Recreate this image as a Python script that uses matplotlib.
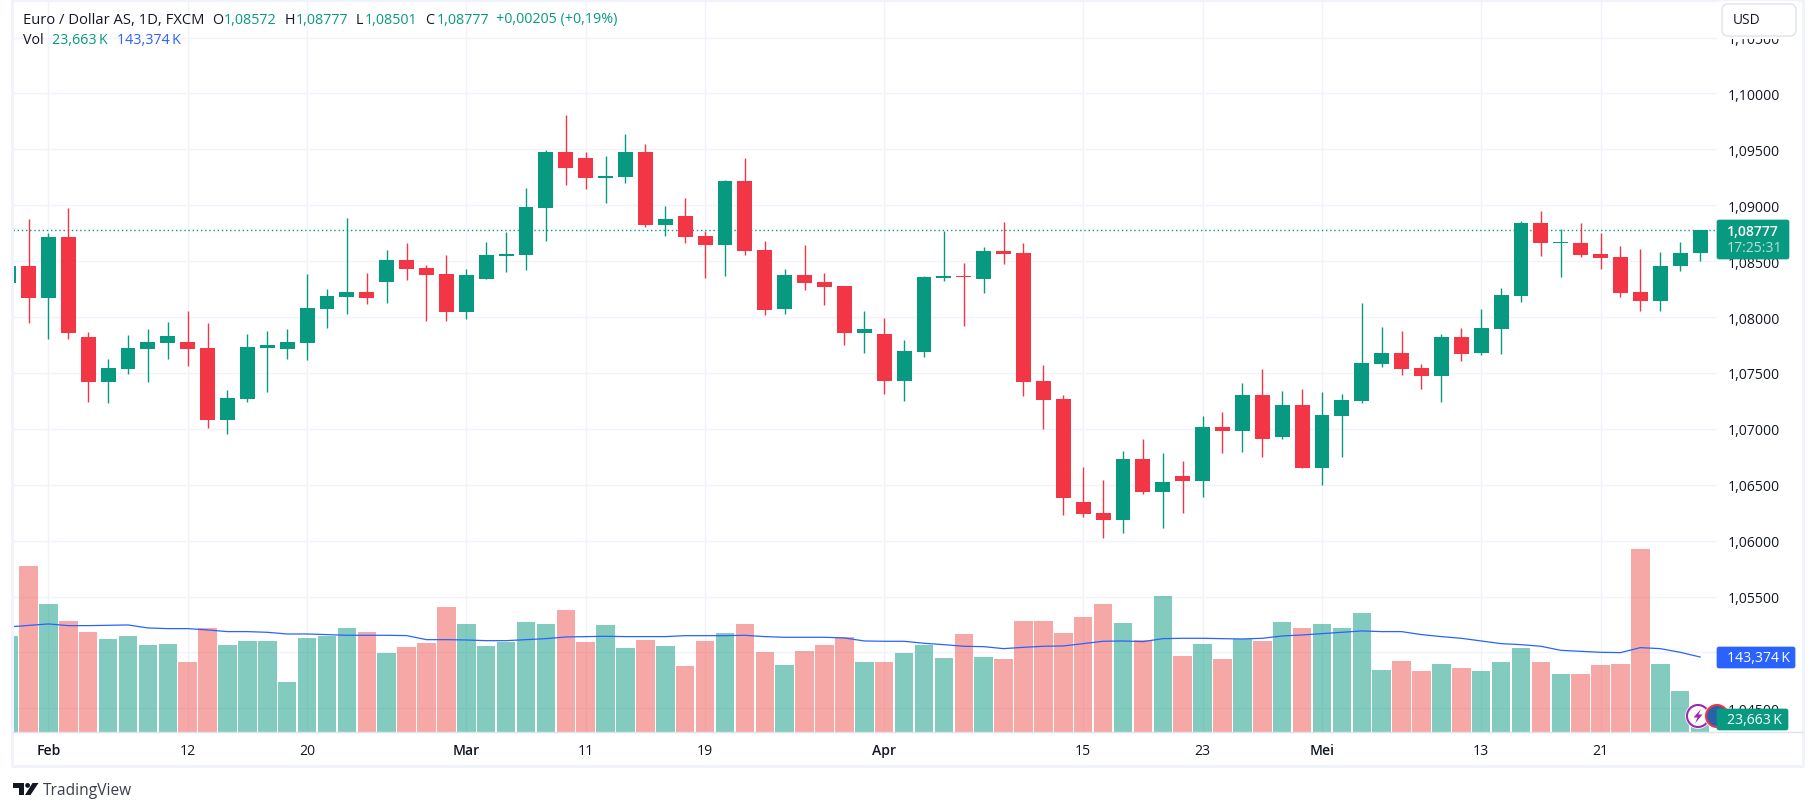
import matplotlib
matplotlib.use("Agg")
import matplotlib.pyplot as plt
from matplotlib.patches import Rectangle, FancyBboxPatch, Circle, Polygon

opens = [1.08305,1.08457,1.08174,1.08717,1.07822,1.07423,1.07539,1.07718,1.07772,1.07778,1.07724,1.07083,1.07271,1.07727,1.07718,1.07772,1.08076,1.08183,1.08225,1.08317,1.08511,1.08439,1.08386,1.08049,1.08344,1.08547,1.08559,1.08979,1.09477,1.09423,
         1.09244,1.09253,1.09477,1.08824,1.08905,1.08726,1.08645,1.09218,1.08600,1.08073,1.08377,1.08314,1.08278,1.07858,1.07849,1.07429,1.07688,1.08350,1.08368,1.08341,1.08592,1.08574,1.07429,1.07268,1.06346,1.06248,1.06185,1.06731,1.06436,1.06579,
         1.06534,1.07017,1.06982,1.07304,1.06928,1.07214,1.06651,1.07116,1.07250,1.07581,1.07679,1.07545,1.07473,1.07822,1.07679,1.07894,1.08189,1.08842,1.08663,1.08663,1.08565,1.08538,1.08225,1.08144,1.08457,1.08572]
closes = [1.08457,1.08174,1.08717,1.07861,1.07423,1.07545,1.07724,1.07778,1.07831,1.07718,1.07083,1.07277,1.07733,1.07751,1.07778,1.08082,1.08189,1.08225,1.08174,1.08511,1.08434,1.08380,1.08049,1.08377,1.08556,1.08565,1.08985,1.09477,1.09337,1.09247,
          1.09262,1.09477,1.08824,1.08878,1.08717,1.08645,1.09218,1.08592,1.08064,1.08377,1.08305,1.08270,1.07858,1.07894,1.07429,1.07697,1.08359,1.08368,1.08359,1.08592,1.08565,1.07420,1.07259,1.06382,1.06239,1.06185,1.06731,1.06436,1.06525,1.06534,
          1.07017,1.06982,1.07304,1.06910,1.07214,1.06651,1.07125,1.07259,1.07590,1.07679,1.07536,1.07473,1.07822,1.07670,1.07903,1.08198,1.08842,1.08663,1.08672,1.08556,1.08529,1.08216,1.08144,1.08457,1.08574,1.08777]
highs = [1.08457,1.08878,1.08753,1.08976,1.07867,1.07626,1.07840,1.07894,1.07956,1.08055,1.07948,1.07348,1.07849,1.07876,1.07894,1.08386,1.08252,1.08887,1.08395,1.08600,1.08663,1.08466,1.08556,1.08431,1.08672,1.08761,1.09155,1.09495,1.09808,1.09477,
         1.09441,1.09638,1.09549,1.08994,1.09066,1.08770,1.09227,1.09423,1.08681,1.08431,1.08645,1.08395,1.08278,1.08055,1.07992,1.07795,1.08368,1.08770,1.08484,1.08627,1.08851,1.08663,1.07572,1.07304,1.06660,1.06543,1.06803,1.06910,1.06785,1.06713,
         1.07116,1.07151,1.07411,1.07536,1.07339,1.07357,1.07330,1.07312,1.08126,1.07912,1.07876,1.07581,1.07849,1.07903,1.08073,1.08261,1.08860,1.08949,1.08788,1.08842,1.08753,1.08636,1.08609,1.08583,1.08672,1.08777]
lows = [1.08305,1.07951,1.07807,1.07807,1.07244,1.07235,1.07494,1.07423,1.07629,1.07566,1.07011,1.06958,1.07244,1.07333,1.07629,1.07620,1.07906,1.08031,1.08120,1.08129,1.08335,1.07968,1.07968,1.07986,1.08344,1.08407,1.08425,1.08684,1.09185,1.09149,
        1.09024,1.09200,1.08806,1.08726,1.08663,1.08350,1.08368,1.08556,1.08019,1.08028,1.08243,1.08109,1.07751,1.07679,1.07312,1.07250,1.07643,1.08323,1.07921,1.08216,1.08475,1.07295,1.07000,1.06230,1.06212,1.06024,1.06069,1.06418,1.06114,1.06248,
        1.06391,1.06785,1.06794,1.06749,1.06910,1.06651,1.06499,1.06749,1.07232,1.07554,1.07482,1.07357,1.07241,1.07608,1.07661,1.07670,1.08135,1.08547,1.08359,1.08538,1.08431,1.08180,1.08055,1.08055,1.08413,1.08501]
volumes = [183.4,316.7,244.4,212.0,191.0,177.7,183.4,166.3,168.2,133.9,198.7,166.3,173.9,174.0,95.8,179.6,183.4,198.7,191.0,151.0,162.5,170.1,238.6,206.3,164.4,172.0,210.1,206.3,232.9,172.0,
           204.4,160.6,175.8,164.4,126.3,173.9,189.1,206.3,153.0,128.2,154.9,166.3,181.5,133.9,133.9,151.0,166.3,141.5,187.2,143.4,139.6,212.0,212.0,189.1,219.6,244.4,208.2,175.8,259.6,145.3,
           168.2,139.6,177.7,173.9,210.1,198.7,206.3,198.7,227.2,118.7,135.8,116.8,130.1,122.5,116.8,133.9,160.6,133.9,111.1,111.1,128.2,130.1,349.1,130.1,78.7,23.663]
vol_ma = [200.6,203.5,206.3,203.1,203.1,203.7,204.4,198.7,197.4,197.4,194.9,191.7,191.7,190.4,187.2,187.2,186.0,184.7,184.7,184.7,184.1,176.4,176.4,175.8,174.5,174.5,176.4,178.3,181.5,182.2,
          182.8,182.2,182.2,182.2,184.0,184.0,184.0,184.7,182.2,180.9,180.9,180.9,179.6,173.9,173.3,173.3,169.5,166.9,163.8,163.1,159.3,161.8,163.8,164.4,168.8,173.3,173.9,172.6,178.3,179.0,
          179.0,178.3,177.7,179.0,183.4,185.3,187.9,190.4,193.0,191.7,191.7,186.0,182.2,179.0,173.9,168.8,166.9,163.8,156.1,154.2,152.3,151.7,161.2,159.3,152.3,143.374]
price_ticks = [1.045,1.05,1.055,1.06,1.065,1.07,1.075,1.08,1.085,1.09,1.095,1.10,1.105]
price_labels = ["1,04500","1,05000","1,05500","1,06000","1,06500","1,07000","1,07500","1,08000","1,08500","1,09000","1,09500","1,10000","1,10500"]
time_idx = [2,9,15,23,29,35,44,54,60,66,74,80]
time_labels = ["Feb","12","20","Mar","11","19","Apr","15","23","Mei","13","21"]
month_labels = {"Feb","Mar","Apr","Mei"}

GREEN, RED, BLUE = "#089981", "#F23645", "#2962FF"
INK, GRID, FRAME = "#131722", "#F0F3FA", "#E0E3EB"
FONT = "Open Sans"
W, H = 1815, 812
plt.rcParams["font.family"] = [FONT, "DejaVu Sans"]

fig = plt.figure(figsize=(W / 100, H / 100), dpi=100, facecolor="white")
L, R, T, B = 13, 1717, 0, 733.3
rect = [L / W, 1 - B / H, (R - L) / W, (B - T) / H]
ax = fig.add_axes(rect, zorder=1)
ax.set_xlim(0.221, 85.85)
ax.set_ylim(1.04286, 1.10845)
for s in ax.spines.values():
    s.set_visible(False)
ax.set_yticks(price_ticks, price_labels)
ax.yaxis.tick_right()
ax.tick_params(axis="y", length=0, pad=8, labelsize=10.1, labelcolor=INK)
ax.set_xticks(time_idx, time_labels)
ax.tick_params(axis="x", length=0, pad=8, labelsize=10.1, labelcolor=INK)
for lab in ax.get_xticklabels():
    if lab.get_text() in month_labels:
        lab.set_fontweight("semibold")
ax.grid(True, color=GRID, lw=1.0)
ax.set_axisbelow(True)

xs = list(range(len(opens)))
cols = [GREEN if c >= o else RED for o, c in zip(opens, closes)]
ax.vlines(xs, lows, highs, colors=cols, lw=1.0, zorder=3)
ax.bar(xs, [max(abs(c - o), 0.00004) for o, c in zip(opens, closes)],
       bottom=[min(o, c) for o, c in zip(opens, closes)], width=0.75, color=cols, zorder=4)
ax.axhline(closes[-1], color=GREEN, lw=1.0, ls=(0, (1, 2)), zorder=2)

vax = fig.add_axes(rect, zorder=2, sharex=ax)
vax.patch.set_visible(False)
vax.set_ylim(0, 1396.2)
vax.axis("off")
vol_cols = ["#089981" if c == GREEN else "#EF5350" for c in cols]
vax.bar(xs, volumes, width=0.93, color=vol_cols, alpha=0.5, lw=0)
vax.plot(xs, vol_ma, color=BLUE, lw=0.9)

# overlay in pixel coordinates for the chrome of the screenshot
ov = fig.add_axes([0, 0, 1, 1], zorder=5)
ov.set_xlim(0, W)
ov.set_ylim(H, 0)
ov.axis("off")
ov.patch.set_visible(False)

# frame
ov.add_patch(Rectangle((12.5, 1), 1790.5, 766, fill=False, ec=GRID, lw=2.2))
ov.plot([13, 1802], [733.3, 733.3], color=FRAME, lw=1.0)

# legend
def seg(x, y, s, color=INK, size=10.3):
    ov.text(x, y, s, color=color, fontsize=size, ha="left", va="center")

seg(23, 20, "Euro / Dollar AS, 1D, FXCM", size=10.6)
seg(212.5, 20, "O")
seg(224, 20, "1,08572", GREEN)
seg(284.5, 20, "H")
seg(296, 20, "1,08777", GREEN)
seg(356, 20, "L")
seg(365, 20, "1,08501", GREEN)
seg(425.5, 20, "C")
seg(437, 20, "1,08777", GREEN)
seg(496, 20, "+0,00205 (+0,19%)", GREEN)
seg(23, 41, "Vol")
seg(52.5, 41, "23,663\u2009K", GREEN)
seg(117.5, 41, "143,374\u2009K", BLUE)

# currency button, with the white it leaves around itself on the price scale
ov.add_patch(Rectangle((1719, 2), 80, 38, fc="white", ec="none", zorder=5))
ov.add_patch(FancyBboxPatch((1725, 8), 68, 26, boxstyle="round,pad=3,rounding_size=6",
                            fc="white", ec=FRAME, lw=1.0, zorder=6))
ov.text(1733, 20.5, "USD", color=INK, fontsize=9.9, va="center", zorder=7)

# event badges
ov.add_patch(Circle((1698, 717), 12.8, fc="white", ec="none", zorder=6))
ov.add_patch(Circle((1698, 717), 11, fc="white", ec="#9C27B0", lw=1.5, zorder=6))
ov.add_patch(Polygon([(1701, 710), (1693.5, 718.5), (1697.5, 718.5), (1695, 724.5), (1702.5, 715.5), (1698.5, 715.5)],
                     fc="#9C27B0", ec="none", zorder=7))
ov.add_patch(Circle((1717, 717), 12.8, fc="white", ec="none", zorder=7))
ov.add_patch(Circle((1717, 717), 11, fc="#2962A8", ec=RED, lw=1.5, zorder=7))

# value labels on the scale
def tag(x0, x1, y0, y1, color):
    ov.add_patch(FancyBboxPatch((x0, y0), x1 - x0 - 2, y1 - y0, boxstyle="round,pad=0,rounding_size=2",
                                fc=color, ec=color, lw=0.5, zorder=8))

tag(1717, 1791, 221, 260, GREEN)
ov.text(1727, 231.5, "1,08777", color="white", fontsize=10.1, va="center", weight="semibold", zorder=9)
ov.text(1727, 249, "17:25:31", color="#B5E0D8", fontsize=10.1, va="center", zorder=9)
tag(1717, 1797, 648, 669, BLUE)
ov.text(1727, 658.5, "143,374\u2009K", color="white", fontsize=10.1, va="center", zorder=9)
tag(1717, 1790, 710, 731, GREEN)
ov.text(1727, 720.5, "23,663\u2009K", color="white", fontsize=10.1, va="center", zorder=9)

# logo
ov.add_patch(Polygon([(13.5, 784), (24, 784), (24, 796), (19, 796), (19, 788.8), (13.5, 788.8)], fc=INK, ec="none"))
ov.add_patch(Circle((27.6, 786.4), 2.4, fc=INK, ec="none"))
ov.add_patch(Polygon([(32.5, 784), (38.5, 784), (30.5, 796), (25, 796)], fc=INK, ec="none"))
ov.text(42.5, 791, "TradingView", color="#3A3E4A", fontsize=11.2, va="center")

fig.savefig("out.png", dpi=100, facecolor="white")
